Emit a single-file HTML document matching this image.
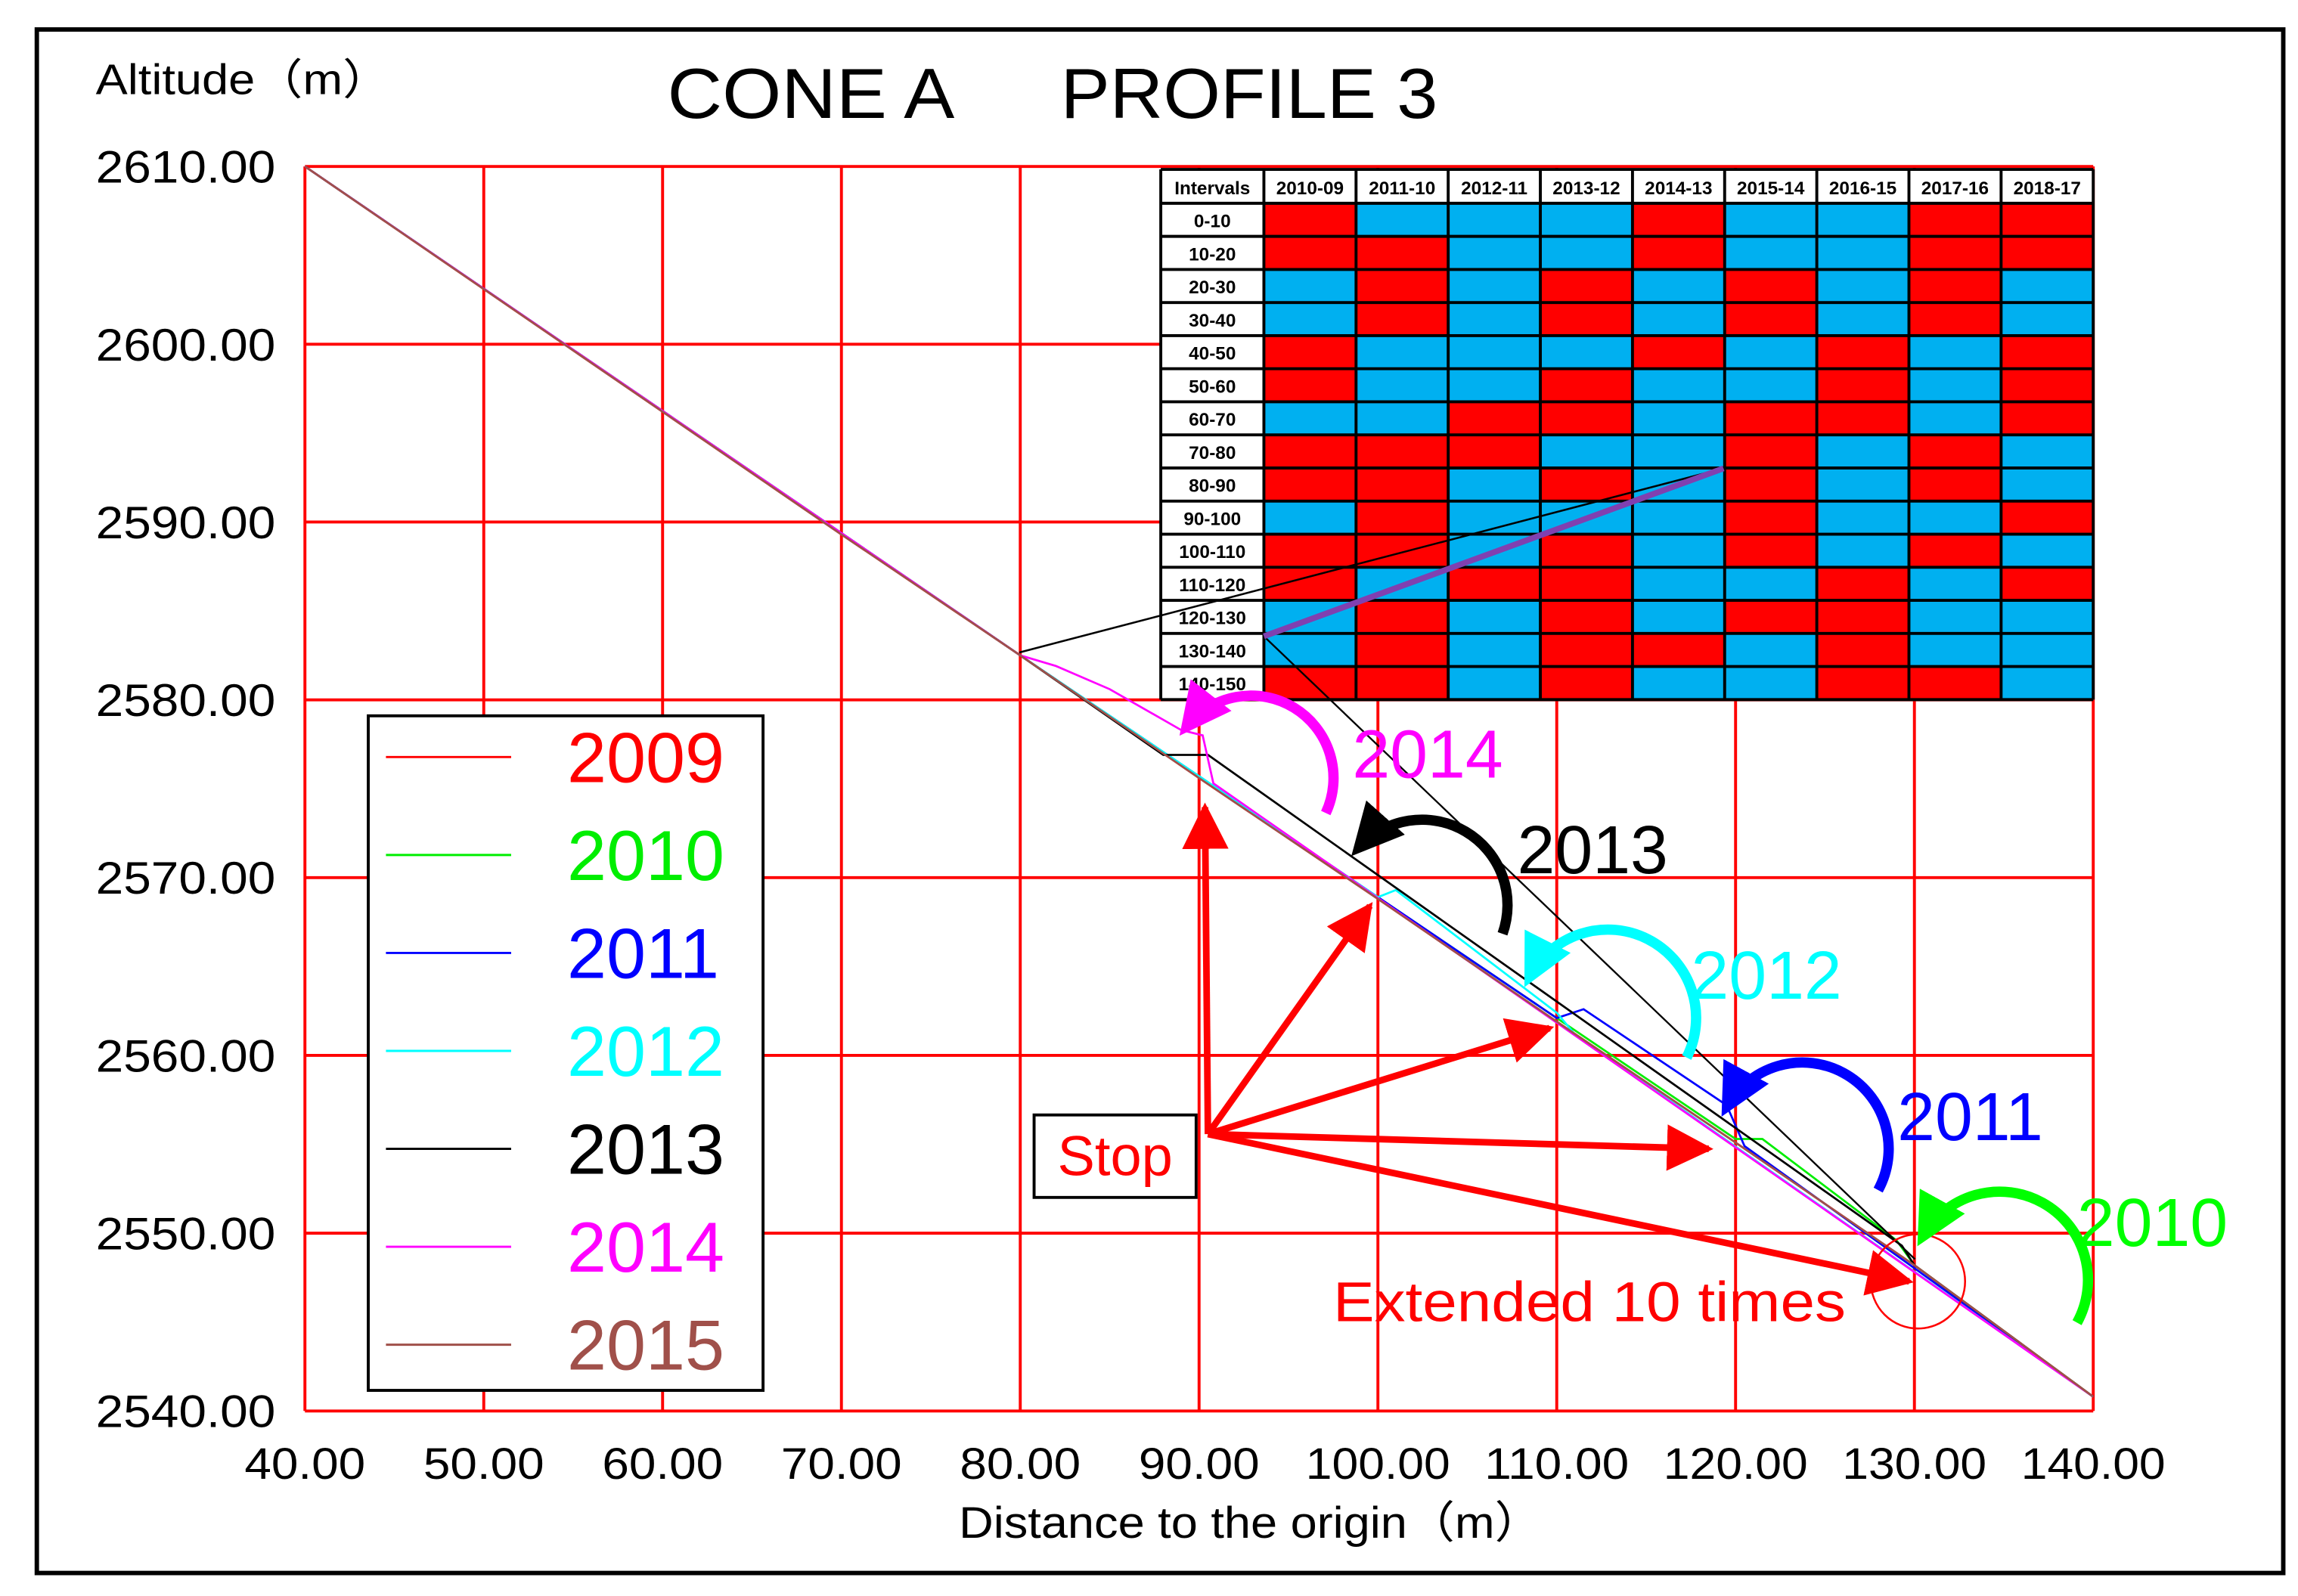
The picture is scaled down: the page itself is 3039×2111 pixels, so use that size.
<!DOCTYPE html>
<html><head><meta charset="utf-8"><style>
html,body{margin:0;padding:0;background:#fff;}
svg{display:block;font-family:"Liberation Sans",sans-serif;}
</style></head><body>
<svg id="chart" width="3039" height="2111" viewBox="0 0 1560 1083.6" xmlns="http://www.w3.org/2000/svg">
<defs>
<marker id="ah" viewBox="0 0 10 10" refX="8" refY="5" markerWidth="5" markerHeight="5" orient="auto" markerUnits="strokeWidth"><path d="M0,0 L10,5 L0,10 z" fill="context-stroke"/></marker>
<marker id="ahr" viewBox="0 0 10 10" refX="9" refY="5" markerWidth="7" markerHeight="7" orient="auto" markerUnits="strokeWidth"><path d="M0,0 L10,5 L0,10 z" fill="#ff0000"/></marker>
</defs>
<rect x="25" y="20" width="1525" height="1048" fill="#fff" stroke="#000" stroke-width="3"/>
<g id="grid"></g>
<g id="table"></g>
<g id="series"></g>
<g id="annot"></g>
<text font-size="48"><tspan x="453" y="80" textLength="195" lengthAdjust="spacingAndGlyphs">CONE A</tspan><tspan x="720" y="80" textLength="256" lengthAdjust="spacingAndGlyphs">PROFILE 3</tspan></text>
<text x="65" y="64" font-size="29" textLength="200" lengthAdjust="spacingAndGlyphs" font-family="Liberation Sans, Noto Sans CJK SC, sans-serif">Altitude（m）</text>
<text x="651" y="1044" font-size="30" textLength="396" lengthAdjust="spacingAndGlyphs" font-family="Liberation Sans, Noto Sans CJK SC, sans-serif">Distance to the origin（m）</text>
</svg>
<script>
const xTicks=[40,50,60,70,80,90,100,110,120,130,140];
const yTicks=[2540,2550,2560,2570,2580,2590,2600,2610];
const years=["2009","2010","2011","2012","2013","2014","2015"];
const yearColors=["#ff0000","#00ee00","#0000ff","#00ffff","#000000","#ff00ff","#a0504a"];
const base=[[40,2610],[50,2603.1],[60,2596.2],[70,2589.3],[80,2582.5],[90,2575.6],[100,2568.8],[110,2561.9],[120,2555.1],[130,2548.2],[140,2540.8]];
const s2010=[[40,2610],[80,2582.5],[120,2555.3],[121.5,2555.3],[129,2549.6],[130,2548.2],[140,2540.8]];
const s2011=[[40,2610],[80,2582.5],[110,2562.1],[111.5,2562.6],[119.5,2557.2],[120.5,2554.9],[140,2540.8]];
const s2012=[[40,2610],[80,2582.5],[100,2568.9],[101,2569.3],[110,2562.4],[111,2561.2],[140,2540.8]];
const s2013=[[40,2610],[80,2582.5],[88,2576.9],[90.5,2576.9],[129.3,2549.3],[130,2548.2],[140,2540.8]];
const s2014=[[40,2610],[80,2582.5],[82,2581.9],[85,2580.6],[89,2578.3],[90.2,2578],[90.8,2575.3],[140,2540.8]];
const seriesList=[base,s2010,s2011,s2012,s2013,s2014,base];
const intervals=["0-10","10-20","20-30","30-40","40-50","50-60","60-70","70-80","80-90","90-100","100-110","110-120","120-130","130-140","140-150"];
const periods=["2010-09","2011-10","2012-11","2013-12","2014-13","2015-14","2016-15","2017-16","2018-17"];
const cells=["RBBBRBBRR","RRBBRBBRR","BRBRBRBRB","BRBRBRBRB","RBBBRBRBR","RBBRBBRBR","BBRRBRRBR","RRRBBRBRB","RRBRBRBRB","BRBBBRBBR","RRBRBRBRB","RBRRBBRBR","BRBRBRRBB","BRBRRBRBB","RRBRBBRRB"];

const NS="http://www.w3.org/2000/svg";
const L=207,R=1421,T=113,B=958;
const sx=v=>L+(v-40)/(140-40)*(R-L);
const sy=v=>T+(2610-v)/(2610-2540)*(B-T);
function mk(tag,attrs,parent){const e=document.createElementNS(NS,tag);for(const k in attrs)e.setAttribute(k,attrs[k]);parent.appendChild(e);return e;}
const grid=document.getElementById('grid');
xTicks.forEach(t=>{
 const l=mk('line',{x1:sx(t),x2:sx(t),y1:T,y2:B,stroke:'#ff0000','stroke-width':2},grid);
 
 
 const s=t.toFixed(2);
 const tx=mk('text',{x:sx(t)-(s.length===5?41:49),y:1004,'font-size':30,textLength:(s.length===5?82:98),lengthAdjust:'spacingAndGlyphs'},grid);tx.textContent=s;
 
 
});
yTicks.forEach(t=>{
 const l=mk('line',{x1:L,x2:R,y1:sy(t),y2:sy(t),stroke:'#ff0000','stroke-width':2},grid);
 
 
 const tx=mk('text',{x:65,y:sy(t)+11,'font-size':31,textLength:122,lengthAdjust:'spacingAndGlyphs'},grid);tx.textContent=t.toFixed(2);
 
 
});
const tb=document.getElementById('table');
const tL=788,tT=115,tR=1421,tBt=475,c0=70,hH=23;
const cw=(tR-tL-c0)/periods.length,rh=(tBt-tT-hH)/intervals.length;
mk('rect',{x:tL,y:tT,width:tR-tL,height:tBt-tT,fill:'#fff'},tb);
periods.forEach((p,j)=>{const t=mk('text',{x:tL+c0+cw*(j+.5),y:tT+17,'font-size':12.5,'font-weight':'bold','text-anchor':'middle'},tb);t.textContent=p;
 
 });
{const t=mk('text',{x:tL+c0/2,y:tT+17,'font-size':12.5,'font-weight':'bold','text-anchor':'middle'},tb);t.textContent='Intervals';
 
 }
intervals.forEach((iv,i)=>{
 const y=tT+hH+rh*i;
 const t=mk('text',{x:tL+c0/2,y:y+rh/2+5,'font-size':12.5,'font-weight':'bold','text-anchor':'middle'},tb);t.textContent=iv;
 
 
 for(let j=0;j<periods.length;j++){
  const r=mk('rect',{x:tL+c0+cw*j,y:y,width:cw,height:rh,fill:cells[i][j]==='R'?'#ff0000':'#00b0f0'},tb);
  
  
 }
});
for(let i=0;i<=intervals.length;i++){const y=tT+hH+rh*i;mk('line',{x1:tL,x2:tR,y1:y,y2:y,stroke:'#000','stroke-width':2},tb);}
mk('line',{x1:tL,x2:tR,y1:tT,y2:tT,stroke:'#000','stroke-width':2},tb);
for(let j=0;j<=periods.length;j++){const x=tL+c0+cw*j;mk('line',{x1:x,x2:x,y1:tT,y2:tBt,stroke:'#000','stroke-width':2},tb);}
mk('line',{x1:tL,x2:tL,y1:tT,y2:tBt,stroke:'#000','stroke-width':2},tb);
const sg=document.getElementById('series');
seriesList.forEach((pts,k)=>{
 const p=mk('polyline',{points:pts.map(q=>sx(q[0])+','+sy(q[1])).join(' '),fill:'none',stroke:yearColors[k],'stroke-width':1.4},sg);
 
 
});
const an=document.getElementById('annot');
mk('line',{x1:692,y1:443,x2:1170,y2:318,stroke:'#000','stroke-width':1.3},an);
mk('line',{x1:858,y1:432,x2:1300,y2:855,stroke:'#000','stroke-width':1.2},an);
{const m=mk('line',{x1:858,y1:432,x2:1170,y2:318,stroke:'#8040b0','stroke-width':4},an);
 
 }
{const c=mk('circle',{cx:1302,cy:870,r:32,fill:'none',stroke:'#ff0000','stroke-width':1.3},an);
 
 }
const targets=[[818,548],[930,615],[1052,698],[1160,780],[1296,870]];
targets.forEach(t=>{
 const a=mk('line',{x1:820,y1:770,x2:t[0],y2:t[1],stroke:'#ff0000','stroke-width':4.5,'marker-end':'url(#ahr)'},an);
 
 
});
const curves=[
 ["2014","#ff00ff",900,552,805,494,56,918,528],
 ["2013","#000000",1020,634,922,576,58,1030,593],
 ["2012","#00ffff",1145,718,1038,664,58,1148,678],
 ["2011","#0000ff",1275,808,1172,752,58,1288,774],
 ["2010","#00ff00",1410,898,1305,840,58,1410,846]];
curves.forEach(c=>{
 const p=mk('path',{d:`M${c[2]},${c[3]} A${c[6]},${c[6]} 0 0 0 ${c[4]},${c[5]}`,fill:'none',stroke:c[1],'stroke-width':7,'marker-end':'url(#ah)'},an);
 
 
 const t=mk('text',{x:c[7],y:c[8],'font-size':46,fill:c[1]},an);t.textContent=c[0];
 
 
});
{const r=mk('rect',{x:702,y:757,width:110,height:56,fill:'#fff',stroke:'#000','stroke-width':2},an);
 
 
 const t=mk('text',{x:757,y:798,'font-size':38,'text-anchor':'middle',fill:'#ff0000'},an);t.textContent='Stop';
 
 }
{const t=mk('text',{x:905,y:897,'font-size':38,fill:'#ff0000',textLength:348,lengthAdjust:'spacingAndGlyphs'},an);t.textContent='Extended 10 times';
 
 }
{const r=mk('rect',{x:250,y:486,width:268,height:458,fill:'#fff',stroke:'#000','stroke-width':2},an);
 
 }
years.forEach((y,k)=>{
 const cy=514+k*66.5;
 const l=mk('line',{x1:262,x2:347,y1:cy,y2:cy,stroke:yearColors[k],'stroke-width':1.5},an);
 
 
 const t=mk('text',{x:385,y:cy+17,'font-size':48,fill:yearColors[k]},an);t.textContent=y;
 
 
});
</script>
</body></html>
